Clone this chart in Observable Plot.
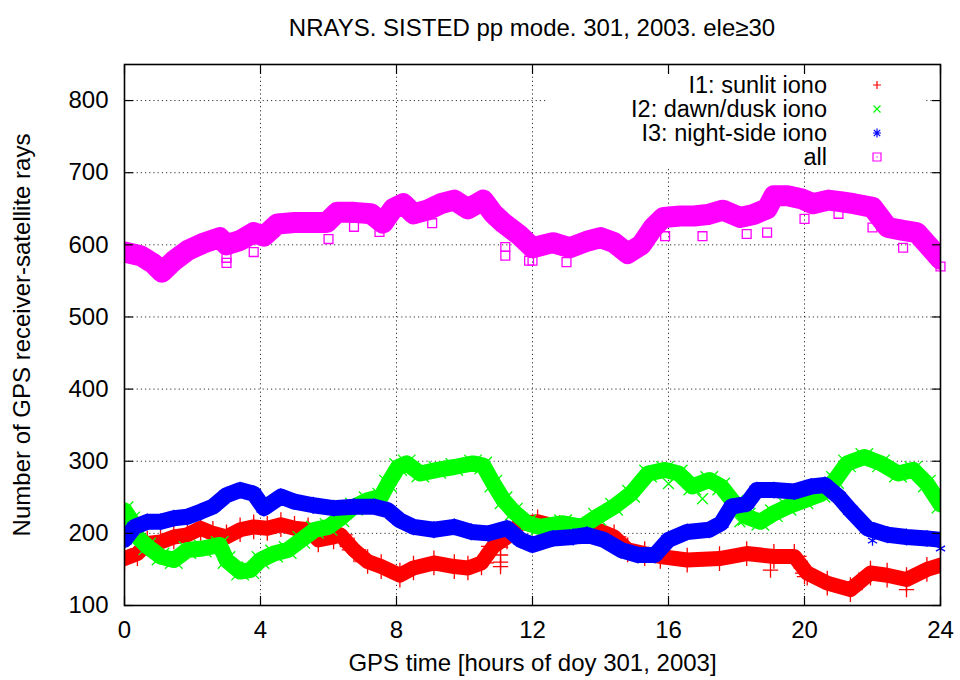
<!DOCTYPE html>
<html>
<head>
<meta charset="utf-8">
<script src="https://cdn.jsdelivr.net/npm/d3@7"></script>
<script src="https://cdn.jsdelivr.net/npm/@observablehq/plot@0.6"></script>
<style>
  body { margin: 0; background: #fff; font-family: "Liberation Sans", Arial, sans-serif; }
  #wrap { position: relative; width: 960px; height: 680px; }
  #title { position: absolute; left: 124px; width: 816px; top: 14px; text-align: center; font-size: 24px; line-height: 28px; color: #000; }
  #plot { position: absolute; left: 0; top: 50px; }
  #legend { position: absolute; left: 548px; top: 74px; width: 378px; height: 94px; background: #fff; }
  #legend svg { display: block; overflow: visible; }
</style>
</head>
<body>
<div id="wrap">
  <div id="title">NRAYS. SISTED pp mode. 301, 2003. ele≥30</div>
  <div id="plot"></div>
  <div id="legend"></div>
</div>
<script>
// ---- data ----
const xTicks = [0, 4, 8, 12, 16, 20, 24];
const yTicks = [100, 200, 300, 400, 500, 600, 700, 800];
const seriesNames = ["I1: sunlit iono", "I2: dawn/dusk iono", "I3: night-side iono", "all"];
const seriesColors = ["#ff0000", "#00ff00", "#0000ff", "#ff00ff"];

const i1Hours = [0, 0.38, 0.67, 1.06, 1.45, 1.85, 2.24, 2.6, 3.0, 3.4, 3.8, 4.2, 4.6, 5.0, 5.4, 5.7, 6.15, 6.35, 6.75, 7.15, 7.55, 8.1, 8.5, 9.1, 9.7, 10.1, 10.5, 10.85, 11.25, 11.65, 12.15, 12.8, 13.4, 13.9, 14.4, 14.8, 15.3, 15.76, 16.55, 17.5, 18.3, 19.1, 19.7, 20.08, 20.67, 21.35, 21.94, 22.43, 23.0, 23.6, 24];
const i1Rays = [165, 172, 186, 188, 195, 198, 207, 200, 195, 205, 209, 207, 212, 207, 205, 191, 195, 198, 177, 161, 154, 142, 152, 159, 154, 152, 159, 182, 195, 214, 216, 208, 202, 205, 195, 177, 172, 168, 163, 165, 172, 168, 168, 145, 131, 122, 145, 142, 136, 150, 156];
const i1OutHours = [11.06, 11.06, 11.06, 11.06, 19.0, 20.0, 23.0];
const i1OutRays = [181, 170, 160, 154, 149, 140, 122];

const i2Hours = [0, 0.2, 0.38, 0.67, 1.06, 1.45, 1.85, 2.3, 2.8, 3.0, 3.4, 3.7, 4.0, 4.4, 4.8, 5.2, 5.6, 6.0, 6.35, 6.75, 7.15, 7.55, 7.75, 8.05, 8.3, 8.7, 9.2, 9.7, 10.25, 10.55, 10.85, 11.15, 11.45, 11.85, 12.2, 12.9, 13.45, 13.9, 14.4, 14.9, 15.4, 15.9, 16.3, 16.7, 17.2, 17.55, 17.95, 18.3, 18.7, 19.1, 19.5, 20.0, 20.5, 20.9, 21.25, 21.76, 22.25, 22.75, 23.2, 23.6, 24];
const i2Rays = [232, 218, 195, 182, 168, 163, 177, 179, 184, 163, 147, 149, 163, 172, 177, 191, 205, 209, 221, 237, 246, 251, 269, 292, 297, 283, 288, 292, 297, 294, 269, 246, 230, 214, 209, 214, 209, 223, 237, 255, 283, 288, 283, 265, 274, 265, 241, 223, 216, 228, 237, 246, 255, 274, 297, 306, 297, 283, 288, 269, 240];
const i2OutHours = [16.0, 17.0, 18.1];
const i2OutRays = [269, 248, 216];

const i3Hours = [0, 0.3, 0.67, 1.06, 1.45, 1.85, 2.24, 2.6, 3.0, 3.4, 3.8, 4.1, 4.6, 5.0, 5.55, 6.15, 6.75, 7.35, 7.75, 8.1, 8.5, 9.1, 9.7, 10.2, 10.7, 11.25, 11.65, 12.0, 12.6, 13.2, 13.6, 14.1, 14.6, 15.1, 15.6, 16.0, 16.55, 17.2, 17.55, 17.85, 18.3, 18.6, 19.1, 19.7, 20.2, 20.6, 21.0, 21.35, 21.85, 22.45, 23.0, 23.6, 24];
const i3Rays = [191, 209, 216, 216, 221, 223, 230, 237, 253, 260, 255, 235, 251, 244, 239, 235, 237, 237, 232, 218, 209, 205, 209, 202, 200, 207, 191, 184, 193, 195, 198, 191, 177, 170, 170, 191, 202, 205, 214, 237, 241, 260, 260, 258, 265, 267, 251, 232, 207, 198, 195, 193, 191];
const i3OutHours = [22.0, 24.0];
const i3OutRays = [190, 179];

const allHours = [0, 0.47, 0.85, 1.1, 1.45, 1.85, 2.3, 2.8, 3.0, 3.4, 3.8, 4.1, 4.5, 5.0, 5.55, 5.95, 6.25, 6.75, 7.25, 7.6, 7.9, 8.2, 8.5, 8.9, 9.3, 9.7, 10.1, 10.55, 10.85, 11.15, 11.65, 12.0, 12.6, 13.1, 13.6, 14.0, 14.4, 14.8, 15.2, 15.55, 15.85, 16.35, 16.75, 17.15, 17.6, 18.1, 18.5, 18.9, 19.1, 19.5, 19.9, 20.25, 20.7, 21.05, 21.45, 22.0, 22.45, 22.9, 23.3, 23.7, 24];
const allRays = [590, 585, 574, 562, 578, 592, 602, 610, 600, 606, 617, 612, 629, 631, 631, 631, 645, 645, 643, 630, 650, 657, 643, 648, 657, 662, 650, 662, 643, 630, 612, 596, 603, 596, 605, 610, 603, 588, 600, 624, 638, 640, 640, 642, 648, 638, 642, 650, 668, 668, 664, 657, 662, 660, 657, 652, 624, 620, 617, 596, 580];
const allOutHours = [3.0, 3.0, 3.8, 6.0, 6.75, 7.5, 9.05, 11.2, 11.2, 11.9, 12.0, 13.0, 15.9, 17.0, 18.3, 18.9, 20.0, 21.0, 22.0, 22.9, 24.0];
const allOutRays = [575, 582, 590, 608, 625, 618, 630, 597, 585, 578, 578, 576, 612, 612, 615, 617, 636, 643, 624, 596, 570];

const xLabel = "GPS time [hours of doy 301, 2003]";
const yLabel = "Number of GPS receiver-satellite rays";

// ---- build tables ----
const zip = (hs, vs) => hs.map((h, i) => ({h, v: vs[i]}));
const series = [
  {main: zip(i1Hours, i1Rays), out: zip(i1OutHours, i1OutRays), symbol: "plus", width: 15, r: 8},
  {main: zip(i2Hours, i2Rays), out: zip(i2OutHours, i2OutRays), symbol: "times", width: 16, r: 8},
  {main: zip(i3Hours, i3Rays), out: zip(i3OutHours, i3OutRays), symbol: "asterisk", width: 16, r: 8},
  {main: zip(allHours, allRays), out: zip(allOutHours, allOutRays), symbol: "square", width: 21, r: 7}
];

const font = "Liberation Sans, Arial, sans-serif";
const marks = [
  Plot.gridX(xTicks, {stroke: "#000", strokeOpacity: 0.8, strokeDasharray: "1.2,3"}),
  Plot.gridY(yTicks, {stroke: "#000", strokeOpacity: 0.8, strokeDasharray: "1.2,3"})
];
series.forEach((s, k) => {
  const c = seriesColors[k];
  marks.push(Plot.line(s.main, {x: "h", y: "v", stroke: c, strokeWidth: s.width, strokeLinejoin: "round", strokeLinecap: "round", clip: true}));
  marks.push(Plot.dot(s.main, {x: "h", y: "v", symbol: s.symbol, stroke: c, fill: "none", r: s.r, strokeWidth: 1.3, clip: true}));
  marks.push(Plot.dot(s.out, {x: "h", y: "v", symbol: s.symbol, stroke: c, fill: "none", r: 5, strokeWidth: 1.3}));
});
marks.push(
  Plot.axisX(xTicks, {anchor: "bottom", tickSize: -9, tickPadding: 24, fontSize: 24, label: null, strokeWidth: 1.2}),
  Plot.axisX(xTicks, {anchor: "top", tickSize: -9, tickFormat: () => "", label: null, strokeWidth: 1.2}),
  Plot.axisY(yTicks, {anchor: "left", tickSize: -9, tickPadding: 25, fontSize: 24, label: null, strokeWidth: 1.2}),
  Plot.axisY(yTicks, {anchor: "right", tickSize: -9, tickFormat: () => "", label: null, strokeWidth: 1.2}),
  Plot.frame({stroke: "#000", strokeWidth: 1.6}),
  Plot.text([xLabel], {frameAnchor: "bottom", lineAnchor: "middle", textAnchor: "middle", dy: 58, fontSize: 24, fill: "#000"}),
  Plot.text([yLabel], {frameAnchor: "left", lineAnchor: "middle", textAnchor: "middle", dx: -102, rotate: -90, fontSize: 24, fill: "#000"})
);

const chart = Plot.plot({
  width: 960,
  height: 630,
  marginLeft: 124,
  marginRight: 20,
  marginTop: 14,
  marginBottom: 75,
  style: {fontFamily: font, fontSize: "24px", color: "#000", background: "#fff", overflow: "visible"},
  x: {domain: [0, 24]},
  y: {domain: [100, 850]},
  marks
});
document.getElementById("plot").appendChild(chart);

// ---- legend (key box, upper right, gnuplot style) ----
const ns = "http://www.w3.org/2000/svg";
const lsvg = document.createElementNS(ns, "svg");
lsvg.setAttribute("width", 378);
lsvg.setAttribute("height", 94);
const symPaths = {
  plus: "M-4,0H4M0,-4V4",
  times: "M-3.5,-3.5L3.5,3.5M-3.5,3.5L3.5,-3.5",
  asterisk: "M-4,0H4M0,-4.5V4.5M-3.2,-3.2L3.2,3.2M-3.2,3.2L3.2,-3.2",
  square: "M-4,-4H4V4H-4Z"
};
const symNames = ["plus", "times", "asterisk", "square"];
seriesNames.forEach((name, i) => {
  const cy = 11 + i * 24;
  const t = document.createElementNS(ns, "text");
  t.setAttribute("x", 279);
  t.setAttribute("y", cy);
  t.setAttribute("text-anchor", "end");
  t.setAttribute("dominant-baseline", "central");
  t.setAttribute("font-family", font);
  t.setAttribute("font-size", 23.5);
  t.textContent = name;
  lsvg.appendChild(t);
  const p = document.createElementNS(ns, "path");
  p.setAttribute("d", symPaths[symNames[i]]);
  p.setAttribute("transform", `translate(329,${cy})`);
  p.setAttribute("stroke", seriesColors[i]);
  p.setAttribute("fill", "none");
  p.setAttribute("stroke-width", 1.2);
  lsvg.appendChild(p);
  if (symNames[i] === "square") {
    const d = document.createElementNS(ns, "rect");
    d.setAttribute("x", 328.4); d.setAttribute("y", cy - 0.6);
    d.setAttribute("width", 1.2); d.setAttribute("height", 1.2);
    d.setAttribute("fill", seriesColors[i]);
    lsvg.appendChild(d);
  }
});
document.getElementById("legend").appendChild(lsvg);
</script>
</body>
</html>
